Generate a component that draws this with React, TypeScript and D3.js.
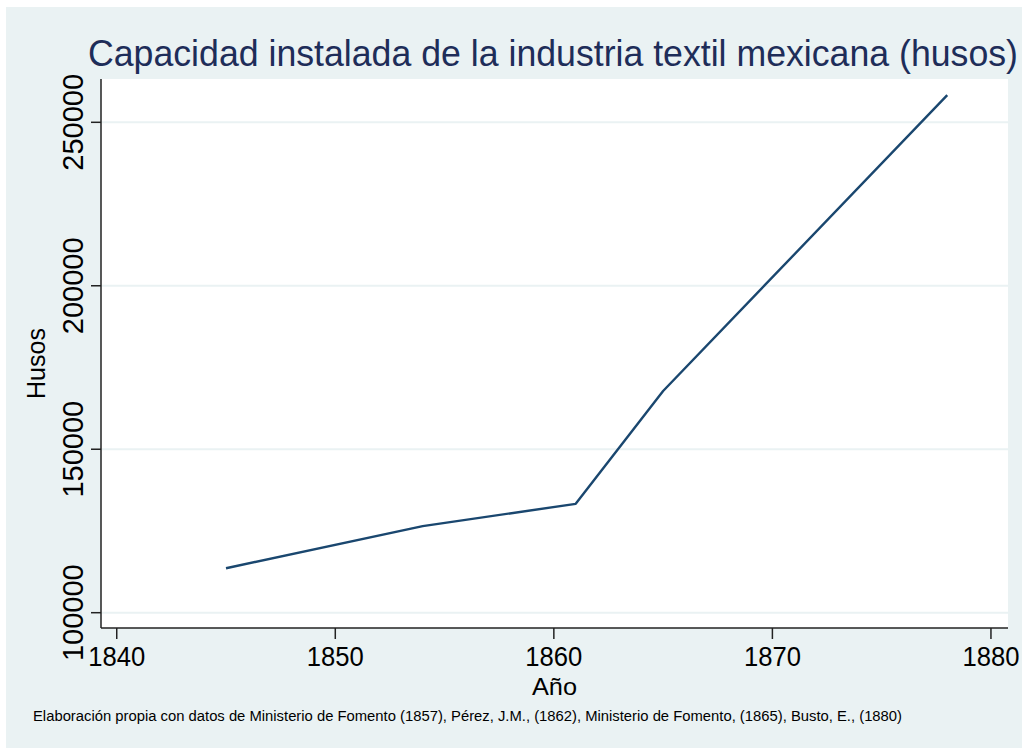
import React from "react";
import * as d3 from "d3";

const years = [1845, 1854, 1861, 1865, 1878];
const husos = [113600, 126500, 133300, 167800, 258300];
const xTicks = [1840, 1850, 1860, 1870, 1880];
const yTicks = [100000, 150000, 200000, 250000];

const W = 1024;
const H = 750;
const plot = { left: 101, right: 1008, top: 79, bottom: 628 };

export default function App() {
  const x = d3.scaleLinear().domain([1839.28, 1880.78]).range([plot.left, plot.right]);
  const y = d3.scaleLinear().domain([95320, 263245]).range([plot.bottom, plot.top]);
  const line = d3
    .line<number>()
    .x((_, i) => x(years[i]))
    .y((d) => y(d));
  const font = "'Liberation Sans', Arial, sans-serif";
  return (
    <svg
      width={W}
      height={H}
      style={{ position: "absolute", left: 0, top: 0, background: "#ffffff" }}
      fontFamily={font}
    >
      <rect x={6} y={7} width={1016} height={741} fill="#eaf2f3" />
      <rect
        x={plot.left}
        y={plot.top}
        width={plot.right - plot.left}
        height={plot.bottom - plot.top}
        fill="#ffffff"
      />
      {yTicks.map((t) => (
        <line
          key={"g" + t}
          x1={plot.left}
          x2={plot.right}
          y1={y(t)}
          y2={y(t)}
          stroke="#eaf2f3"
          strokeWidth={2}
        />
      ))}
      <path d={line(husos) || ""} fill="none" stroke="#1a476f" strokeWidth={2.4} strokeLinejoin="round" />
      <line x1={plot.left} x2={plot.left} y1={plot.top} y2={plot.bottom} stroke="#222" strokeWidth={1.5} />
      <line x1={plot.left} x2={plot.right} y1={plot.bottom} y2={plot.bottom} stroke="#222" strokeWidth={1.5} />
      {yTicks.map((t) => (
        <g key={"y" + t}>
          <line x1={plot.left - 10} x2={plot.left} y1={y(t)} y2={y(t)} stroke="#222" strokeWidth={1.5} />
          <text
            transform={`translate(${plot.left - 18},${y(t)}) rotate(-90)`}
            textAnchor="middle"
            fontSize={29}
            fill="#000"
          >
            {String(t)}
          </text>
        </g>
      ))}
      {xTicks.map((t) => (
        <g key={"x" + t}>
          <line x1={x(t)} x2={x(t)} y1={plot.bottom} y2={plot.bottom + 11} stroke="#222" strokeWidth={1.5} />
          <text
            x={x(t)}
            y={666}
            textAnchor="middle"
            fontSize={28}
            fill="#000"
            textLength={57}
            lengthAdjust="spacingAndGlyphs"
          >
            {String(t)}
          </text>
        </g>
      ))}
      <text
        transform={`translate(45,${(plot.top + plot.bottom) / 2 + 10}) rotate(-90)`}
        textAnchor="middle"
        fontSize={25}
        fill="#000"
      >
        Husos
      </text>
      <text
        x={(plot.left + plot.right) / 2}
        y={695}
        textAnchor="middle"
        fontSize={24}
        fill="#000"
        textLength={45}
        lengthAdjust="spacingAndGlyphs"
      >
        Año
      </text>
      <text x={88} y={66} fontSize={36} fill="#1e2d59" textLength={930} lengthAdjust="spacingAndGlyphs">
        Capacidad instalada de la industria textil mexicana (husos)
      </text>
      <text x={33} y={721} fontSize={14} fill="#000" textLength={869} lengthAdjust="spacingAndGlyphs">
        Elaboración propia con datos de Ministerio de Fomento (1857), Pérez, J.M., (1862), Ministerio de Fomento, (1865), Busto, E., (1880)
      </text>
    </svg>
  );
}
